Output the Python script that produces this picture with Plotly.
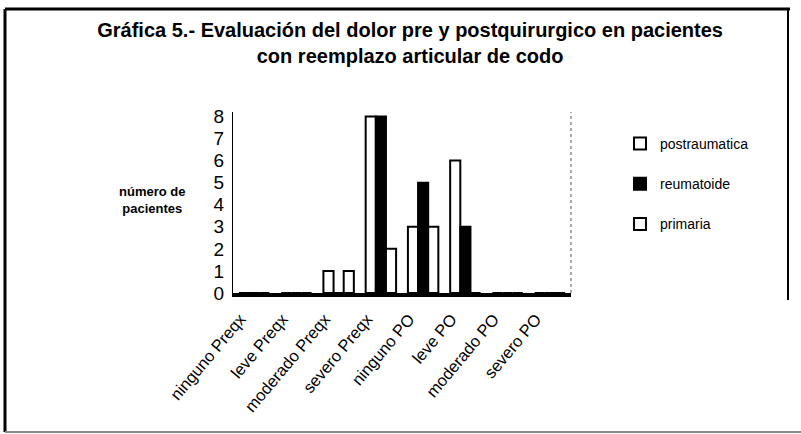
import plotly.graph_objects as go

categories = ["ninguno Preqx", "leve Preqx", "moderado Preqx", "severo Preqx",
              "ninguno PO", "leve PO", "moderado PO", "severo PO"]
postraumatica = [0, 0, 1, 8, 3, 6, 0, 0]
reumatoide = [0, 0, 0, 8, 5, 3, 0, 0]
primaria = [0, 0, 1, 2, 3, 0, 0, 0]
y_ticks = [0, 1, 2, 3, 4, 5, 6, 7, 8]

FONT = "Liberation Sans, Arial, sans-serif"

# plot area in pixels
L, R, T, B = 233, 571, 112, 293
W, H = 801, 434


def px(x):
    return (x - L) / (R - L)


def py(y):
    return (B - y) / (B - T)


fig = go.Figure()
series = [("postraumatica", postraumatica, "white"),
          ("reumatoide", reumatoide, "black"),
          ("primaria", primaria, "white")]
for i, (name, vals, col) in enumerate(series):
    fig.add_trace(go.Bar(
        x=categories, y=vals, name=name, legendgroup=str(i),
        marker=dict(color=col, line=dict(color="black", width=2)),
    ))

fig.update_layout(
    template="none",
    width=W, height=H,
    margin=dict(l=L, r=W - R, t=T, b=H - B, autoexpand=False),
    paper_bgcolor="white", plot_bgcolor="white",
    barmode="group", bargap=0.28, bargroupgap=0,
    font=dict(family=FONT, color="black"),
    title=dict(
        text="<b>Gráfica 5.- Evaluación del dolor pre y postquirurgico en pacientes<br>con reemplazo articular de codo</b>",
        x=0.512, xanchor="center", y=1 - 37 / H, yanchor="top",
        font=dict(size=20, family=FONT, color="black"),
    ),
    showlegend=True,
    legend=dict(x=px(620), xanchor="left", y=py(128), yanchor="top",
                font=dict(size=14, family=FONT), tracegroupgap=19,
                bgcolor="rgba(0,0,0,0)", itemwidth=30),
    xaxis=dict(showline=True, linecolor="black", linewidth=4,
               tickangle=-50, tickfont=dict(size=16.5, family=FONT),
               ticklabelshift=-14, ticklabelstandoff=6,
               showgrid=False, ticks="", automargin=False, zeroline=False),
    yaxis=dict(range=[0, 8.2], tickvals=y_ticks, showline=True,
               linecolor="black", linewidth=1, showgrid=False,
               tickfont=dict(size=19, family=FONT), ticks="", zeroline=False,
               ticklabelstandoff=4, automargin=False),
    annotations=[dict(
        text="<b>número de<br>pacientes</b>", xref="paper", yref="paper",
        x=px(152), y=py(200), xanchor="center", yanchor="middle",
        showarrow=False, font=dict(size=13, family=FONT), align="center")],
    shapes=[
        # outer frame
        dict(type="line", xref="paper", yref="paper",
             x0=px(5), x1=px(790), y0=py(9), y1=py(9),
             line=dict(color="black", width=3)),
        dict(type="line", xref="paper", yref="paper",
             x0=px(5), x1=px(5), y0=py(9), y1=py(432),
             line=dict(color="black", width=3)),
        dict(type="line", xref="paper", yref="paper",
             x0=px(788), x1=px(788), y0=py(9), y1=py(300),
             line=dict(color="black", width=2)),
        dict(type="line", xref="paper", yref="paper",
             x0=px(5), x1=px(801), y0=py(432), y1=py(432),
             line=dict(color="#888888", width=2)),
        # faint right border of plot area
        dict(type="line", xref="paper", yref="paper",
             x0=1, x1=1, y0=0, y1=py(112),
             line=dict(color="#555555", width=1, dash="dot")),
    ],
)

fig.write_html("out.html", config={"displayModeBar": False},
               post_script="document.body.style.margin='0';document.body.style.padding='0';")
